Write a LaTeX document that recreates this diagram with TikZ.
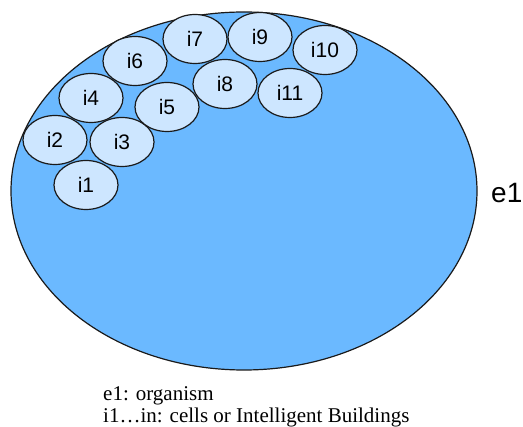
\documentclass[tikz,border=0pt]{standalone}
\usepackage{fontspec}
\setmainfont{Liberation Serif}
\newfontfamily\arial{Liberation Sans}
\usetikzlibrary{shapes.geometric}
\definecolor{bigblue}{HTML}{6BB9FF}
\definecolor{cellblue}{HTML}{CDE6FF}
\definecolor{edge}{HTML}{1A1A1A}
\tikzset{
  organism/.style={ellipse, draw=edge, line width=1.2pt, fill=bigblue, minimum width=466pt, minimum height=358pt, inner sep=0pt},
  cell/.style={ellipse, draw=edge, line width=1.2pt, fill=cellblue, minimum width=64pt, minimum height=49pt, inner sep=0pt, font=\arial\fontsize{21}{24}\selectfont},
  caption/.style={anchor=base west, inner sep=0pt, font=\fontsize{21}{22}\selectfont}
}
\begin{document}
\begin{tikzpicture}[x=1pt,y=-1pt]
\useasboundingbox (0,0) rectangle (523,427);
\node[organism] (e1) at (244,191) {};
\node[anchor=west, inner sep=0pt, font=\arial\fontsize{28}{30}\selectfont] (e1lbl) at (491,193) {e1};
\node[cell] (i1) at (86,185) {i1};
\node[cell] (i2) at (55,140) {i2};
\node[cell] (i3) at (122,142) {i3};
\node[cell] (i4) at (91,98) {i4};
\node[cell] (i5) at (167,107) {i5};
\node[cell] (i6) at (135,61) {i6};
\node[cell] (i7) at (195,39) {i7};
\node[cell] (i8) at (225,84) {i8};
\node[cell] (i9) at (260,37) {i9};
\node[cell] (i10) at (325,50) {i10};
\node[cell] (i11) at (290,93) {i11};
\node[caption] (cap1) at (103,400.5) {e1: organism};
\node[caption] (cap2) at (103,422.5) {i1…in: cells or Intelligent Buildings};
\end{tikzpicture}
\end{document}
